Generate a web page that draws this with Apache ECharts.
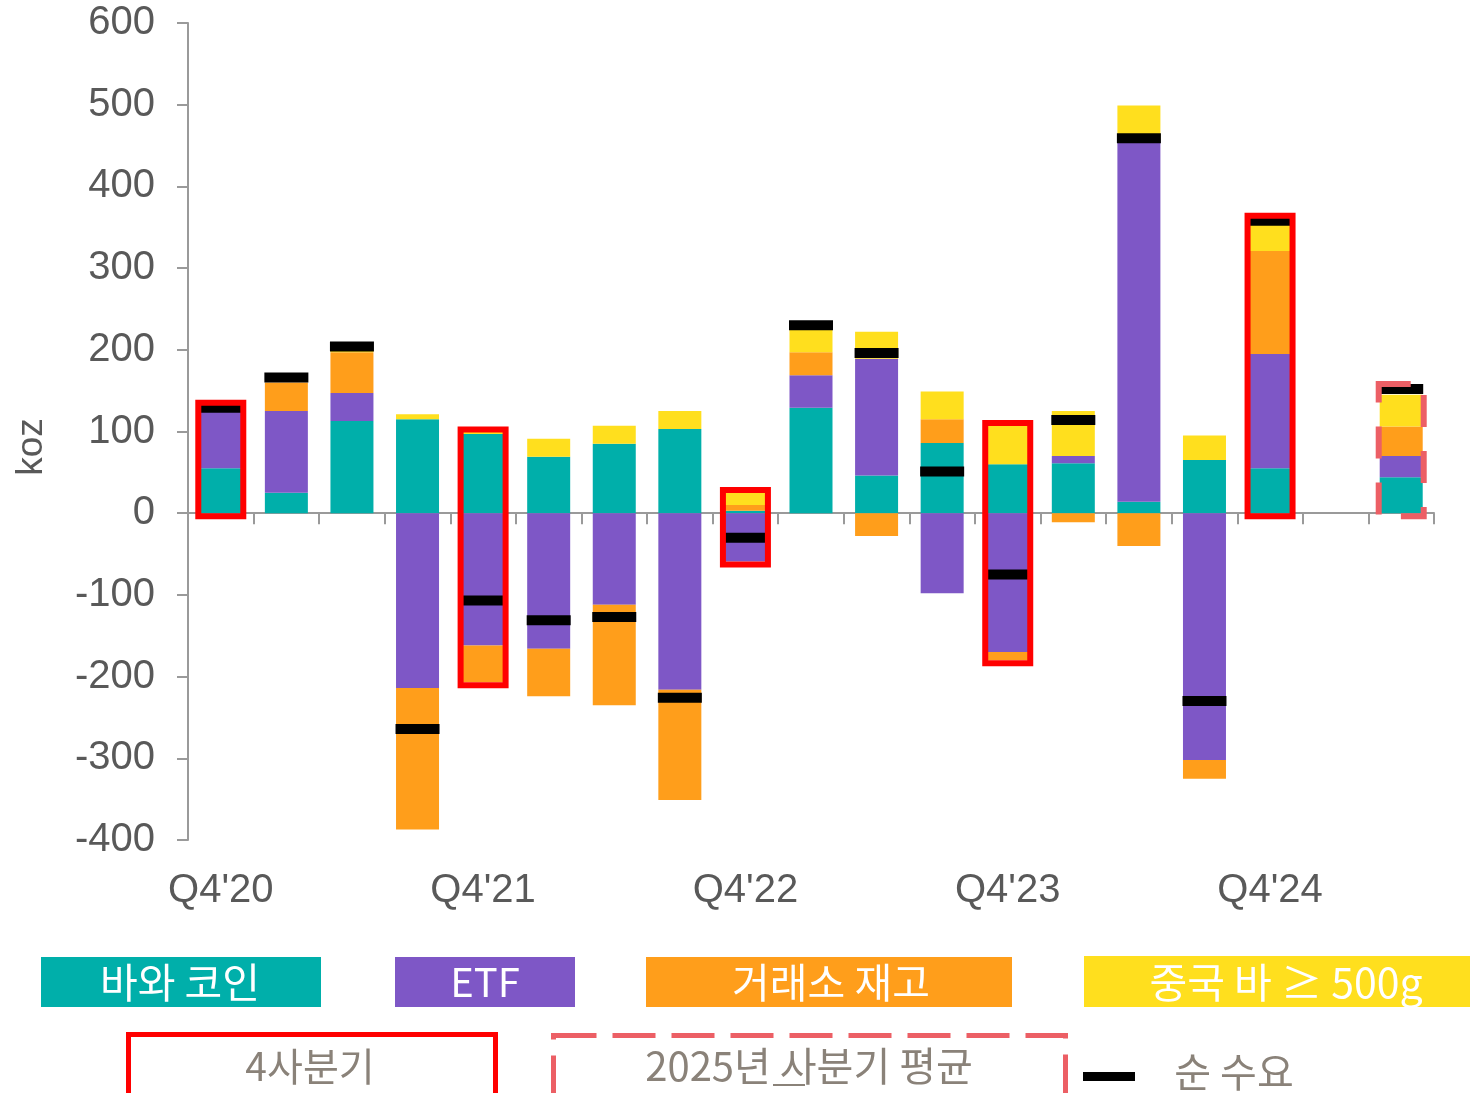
<!doctype html>
<html lang="ko">
<head>
<meta charset="UTF-8">
<title>은 수요</title>
<style>
    html, body { margin: 0; padding: 0; background: #fff; }
    #chart { width: 1470px; height: 1093px; }
</style>
</head>
<body>
<div id="chart"></div>
<script src="https://cdn.jsdelivr.net/npm/echarts@6/dist/echarts.min.js"></script>
<script>
// data (koz)
var quarters = ["Q4'20","Q1'21","Q2'21","Q3'21","Q4'21","Q1'22","Q2'22","Q3'22","Q4'22",
                "Q1'23","Q2'23","Q3'23","Q4'23","Q1'24","Q2'24","Q3'24","Q4'24","","2025 평균"];
var barCoins  = [55, 25, 113, 115, 97, 69, 85, 103, 3, 129, 46, 86, 60, 61, 14, 65, 55, '-', 44];
var etf       = [70, 100, 34, -214, -162, -166, -112, -216, -59, 40, 143, -98, -170, 9, 443, -302, 140, '-', 26];
var exchange  = [0, 35, 50, -173, -45, -58, -123, -135, 7, 28, -28, 29, -10, -11, -40, -23, 126, '-', 36];
var chinaBars = [0, 0, 2, 6, 3, 22, 22, 22, 16, 32, 33, 34, 48, 55, 42, 30, 34, '-', 39];
var netDemand = [129, 166, 204, -264, -107, -131, -127, -226, -30, 230, 196, 51, -75, 114, 459, -230, 358, '-', 152];
var q4Index = [0, 4, 8, 12, 16];
var avgIndex = 18;
var yTicks = { min: -400, max: 600, step: 100 };

var colors = { coin: '#00AFAA', etf: '#7E57C6', exch: '#FF9E1B', china: '#FFDF1E' };
var BAR_W = 43;

// box extents for the highlighted quarters
function stackExtent(i) {
    var pos = 0, neg = 0;
    [barCoins, etf, exchange, chinaBars].forEach(function (s) {
        var v = s[i];
        if (v > 0) pos += v; else if (v < 0) neg += v;
    });
    return [pos, neg];
}
var boxData = [];
q4Index.concat([avgIndex]).forEach(function (i) {
    var e = stackExtent(i);
    boxData.push([i, e[0], e[1], netDemand[i], i === avgIndex ? 1 : 0]);
});

var netData = netDemand.map(function (v, i) { return [i, v]; });

var chart = echarts.init(document.getElementById('chart'));

var axisGray = '#9a9a9a';
var labelGray = '#595959';
var legendGray = '#8A8279';
var cjk = '"Noto Sans CJK KR", "Noto Sans", sans-serif';

function barSeries(name, data, color) {
    return {
        name: name, type: 'bar', stack: 'demand', data: data,
        barWidth: BAR_W, itemStyle: { color: color }, z: 2,
        xAxisIndex: 0, yAxisIndex: 0
    };
}

var option = {
    animation: false,
    grid: { left: 188, right: 36, top: 23, bottom: 253 },
    xAxis: [{
        type: 'category',
        data: quarters,
        axisLine: { onZero: true, lineStyle: { color: axisGray, width: 2 } },
        axisTick: { show: true, interval: 0, length: 11, lineStyle: { color: axisGray, width: 2 } },
        axisLabel: { show: false },
        splitLine: { show: false }
    }, {
        type: 'category',
        data: quarters,
        position: 'bottom',
        axisLine: { show: false, onZero: false },
        axisTick: { show: false },
        axisLabel: {
            interval: 3, margin: 31, fontSize: 40, color: labelGray,
            fontFamily: '"Liberation Sans", Arial, sans-serif'
        },
        splitLine: { show: false }
    }],
    yAxis: {
        type: 'value',
        min: yTicks.min, max: yTicks.max, interval: yTicks.step,
        axisLine: { show: true, lineStyle: { color: axisGray, width: 2 } },
        axisTick: { show: true, length: 11, lineStyle: { color: axisGray, width: 2 } },
        axisLabel: {
            margin: 33, fontSize: 40, color: labelGray,
            fontFamily: '"Liberation Sans", Arial, sans-serif'
        },
        splitLine: { show: false }
    },
    series: [
        barSeries('바와 코인', barCoins, colors.coin),
        barSeries('ETF', etf, colors.etf),
        barSeries('거래소 재고', exchange, colors.exch),
        barSeries('중국 바 ≥ 500g', chinaBars, colors.china),
        {
            name: '순 수요', type: 'scatter', data: netData,
            symbol: 'rect', symbolSize: [44, 10],
            itemStyle: { color: '#000', opacity: 1 }, z: 3
        },
        {
            name: 'box', type: 'custom', data: boxData, z: 4,
            renderItem: function (params, api) {
                var i = api.value(0);
                var barTop = api.coord([i, api.value(1)])[1];
                var barBot = api.coord([i, api.value(2)])[1];
                var net = api.coord([i, api.value(3)]);
                var dashed = api.value(4) === 1;
                var top = Math.min(barTop - 2, net[1] - 5);
                var bot = Math.max(barBot + 3, net[1] + 5);
                var half = 22.5;
                return {
                    type: 'rect',
                    shape: { x: net[0] - half, y: top, width: half * 2, height: bot - top },
                    style: {
                        fill: 'none',
                        stroke: dashed ? '#EC5F65' : '#FF0000',
                        lineWidth: 6,
                        lineDash: dashed ? [32, 24] : null
                    }
                };
            }
        }
    ],
    graphic: [
        // axis name
        { type: 'text', x: 32, y: 447, rotation: Math.PI / 2,
          style: { text: 'koz', x: 0, y: 0, textAlign: 'center', textVerticalAlign: 'middle',
                   fontSize: 37, fontFamily: '"Liberation Sans", Arial, sans-serif', fill: labelGray } },

        // legend row 1
        { type: 'rect', shape: { x: 41, y: 957, width: 280, height: 50 }, style: { fill: colors.coin } },
        { type: 'text', style: { text: '바와 코인', x: 180, y: 982, textAlign: 'center', textVerticalAlign: 'middle',
                                 fontSize: 41, fontFamily: cjk, fill: '#fff' } },
        { type: 'rect', shape: { x: 395, y: 957, width: 180, height: 50 }, style: { fill: colors.etf } },
        { type: 'text', style: { text: 'ETF', x: 485, y: 982, textAlign: 'center', textVerticalAlign: 'middle',
                                 fontSize: 40, fontFamily: cjk, fill: '#fff' } },
        { type: 'rect', shape: { x: 646, y: 957, width: 366, height: 50 }, style: { fill: colors.exch } },
        { type: 'text', style: { text: '거래소 재고', x: 831, y: 982, textAlign: 'center', textVerticalAlign: 'middle',
                                 fontSize: 41, fontFamily: cjk, fill: '#fff' } },
        { type: 'rect', shape: { x: 1084, y: 956, width: 386, height: 51 }, style: { fill: colors.china } },
        { type: 'text', style: { text: '중국 바 ≥ 500g', x: 1286, y: 982, textAlign: 'center', textVerticalAlign: 'middle',
                                 fontSize: 41, fontFamily: cjk, fill: '#fff' } },

        // legend row 2
        { type: 'rect', shape: { x: 128.5, y: 1034.5, width: 367, height: 80 },
          style: { fill: 'none', stroke: '#FF0000', lineWidth: 5 } },
        { type: 'text', style: { text: '4사분기', x: 310, y: 1066, textAlign: 'center', textVerticalAlign: 'middle',
                                 fontSize: 39, fontFamily: cjk, fill: legendGray } },
        { type: 'rect', shape: { x: 553.5, y: 1035.5, width: 512, height: 80 },
          style: { fill: 'none', stroke: '#EC5F65', lineWidth: 5, lineDash: [43, 16] } },
        { type: 'text', style: { text: '2025년 사분기 평균', x: 809, y: 1066, textAlign: 'center', textVerticalAlign: 'middle',
                                 fontSize: 40, fontFamily: cjk, fill: legendGray } },
        { type: 'line', shape: { x1: 773, y1: 1085, x2: 805, y2: 1085 },
          style: { stroke: legendGray, lineWidth: 2 } },
        { type: 'rect', shape: { x: 1083, y: 1072, width: 52, height: 9 }, style: { fill: '#000' } },
        { type: 'text', style: { text: '순 수요', x: 1234, y: 1072, textAlign: 'center', textVerticalAlign: 'middle',
                                 fontSize: 40, fontFamily: cjk, fill: legendGray } }
    ]
};

chart.setOption(option);
</script>
</body>
</html>
